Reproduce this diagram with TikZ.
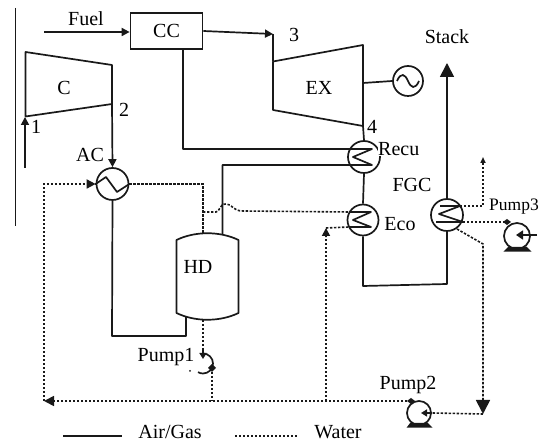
\documentclass[tikz,border=0pt]{standalone}
\usepackage{fontspec}
\setmainfont{Liberation Serif}
\usetikzlibrary{arrows.meta}
\tikzset{
  solidline/.style={line width=1.7pt,draw=black!90},
  waterline/.style={line width=1.6pt,draw=black!90,dash pattern=on 2.4pt off 1.6pt},
  hx/.style={circle,draw=black!90,line width=1.7pt,inner sep=0pt,minimum size=#1},
  lab/.style={font=\fontsize{20}{21}\selectfont,inner sep=0pt},
  tipS/.style={-{Triangle[length=8pt,width=8pt]}},
  tipB/.style={-{Triangle[length=14pt,width=14pt]}},
  tipT/.style={-{Triangle[length=6pt,width=5pt]}},
  pumpbase/.style={line width=1.4pt,draw=black!90,fill=black!90}
}
\begin{document}
\begin{tikzpicture}[x=1pt,y=-1pt]
\useasboundingbox (0,0) rectangle (542,443);
% stray margin rule
\coordinate (ruleA) at (15,8); \coordinate (ruleB) at (15,226);
\draw[line width=1pt,black!90] (ruleA) -- (ruleB);

% equipment nodes
\node[draw=black!90,line width=1.7pt,minimum width=72pt,minimum height=36pt,inner sep=0pt,lab] (CC) at (166.5,31) {CC};
\node[hx=32pt] (AC) at (112.5,184) {};
\node[hx=32pt] (Recu) at (364,157) {};
\node[hx=31pt] (Eco) at (363,220) {};
\node[hx=32pt] (FGC) at (447,215) {};
\node[hx=30pt] (Gen) at (408,81) {};
\node[hx=24pt] (PumpB) at (419,413) {};
\node[hx=26pt] (PumpC) at (517,236) {};

% compressor
\coordinate (Ca) at (25.5,52); \coordinate (Cb) at (112,65);
\coordinate (Cc) at (112,104); \coordinate (Cd) at (25.5,116.5);
\draw[solidline,line join=round] (Ca) -- (Cb) -- (Cc) -- (Cd) -- cycle;
\node[lab] (Clab) at (64,88) {C};
% expander
\coordinate (Ea) at (273,61.5); \coordinate (Eb) at (363,45);
\coordinate (Ec) at (363,126); \coordinate (Ed) at (273,110);
\draw[solidline,line join=round] (Ea) -- (Eb) -- (Ec) -- (Ed) -- cycle;
\node[lab] (EXlab) at (319,88) {EX};
% drum
\coordinate (Da) at (176.5,240); \coordinate (Db) at (238.5,240);
\coordinate (Dc) at (238.5,313); \coordinate (Dd) at (176.5,313);
\draw[solidline,line join=round] (Da) .. controls (195,231) and (220,231) .. (Db) -- (Dc)
  .. controls (220,322) and (195,322) .. (Dd) -- cycle;
\node[lab] (HD) at (198,267) {HD};

% air/gas connectors
\coordinate (fuelS) at (44,32);
\draw[solidline,tipS] (fuelS) -- (CC.west |- fuelS);
\coordinate (s3) at (273,34);
\draw[solidline,tipS] (CC.east) -- (s3);
\draw[solidline] (s3) -- (Ea);
\coordinate (s1) at (25,168); \coordinate (s1t) at (25,117);
\draw[solidline,tipS] (s1) -- (s1t);
\draw[solidline,tipS] (Cc) -- (AC.north);
\coordinate (ccB) at (183,49); \coordinate (rT) at (183,149);
\coordinate (rTr) at (372,149); \coordinate (rM) at (353,157);
\coordinate (rBr) at (372,165); \coordinate (rBl) at (222.5,165);
\coordinate (hdT) at (222.5,234);
\draw[solidline,line join=round] (ccB) -- (rT) -- (rTr) -- (rM) -- (rBr) -- (rBl) -- (hdT);
\draw[solidline] (Ec) -- (Recu.north);
\draw[solidline] (Recu.south) -- (Eco.north);
\coordinate (genL) at (363,83);
\draw[solidline] (genL) -- (Gen.west);
\draw[solidline] (397,81) .. controls (401,72) and (405,74) .. (408,81) .. controls (411,88) and (415,90) .. (419,81);
\coordinate (acD) at (112,336); \coordinate (hdD) at (186,336); \coordinate (hdE) at (186,317);
\draw[solidline,line join=round] (AC.south) -- (acD) -- (hdD) -- (hdE);
\coordinate (ecoB) at (363,286); \coordinate (fgcB) at (447,284);
\draw[solidline,line join=round] (Eco.south) -- (ecoB) -- (fgcB) -- (FGC.south);
\coordinate (stack) at (447,63);
\draw[solidline,tipB] (FGC.north) -- (stack);

% zigzags inside water heat exchangers
\draw[solidline,line join=round] (AC.west) -- (106,177) -- (117,192) -- (AC.east);
\coordinate (eTl) at (349,212); \coordinate (eTr) at (371,212);
\coordinate (eM) at (353,220); \coordinate (eBr) at (371,227); \coordinate (eBl) at (349,227);
\draw[solidline,line join=round] (eTl) -- (eTr) -- (eM) -- (eBr) -- (eBl);
\coordinate (fTl) at (440,206); \coordinate (fTr) at (460,206); \coordinate (fM) at (439,214);
\coordinate (fBr) at (463,222); \coordinate (fBl) at (436,222);
\draw[solidline,line join=round] (fTl) -- (fTr) -- (fM) -- (fBr) -- (fBl);

% water connectors
\coordinate (wBL) at (44,401); \coordinate (wAC) at (44,184);
\draw[waterline] (wBL) -- (wAC) -- (AC.west);
\draw[-{Triangle[length=9pt,width=9pt]},solidline] (88,184) -- (AC.west);
\coordinate (acR) at (203,184); \coordinate (hdW) at (203,233);
\draw[waterline] (AC.east) -- (acR) -- (hdW);
\coordinate (wJ) at (203,212);
\draw[waterline] (wJ) -- (216,212) .. controls (220,212) and (219,204) .. (226,204)
  .. controls (233,204) and (232,211) .. (243,211) -- (eTl);
\coordinate (hdB) at (203,320); \coordinate (p1a) at (203,359);
\draw[waterline] (hdB) -- (203,350);
\draw[solidline,-{Triangle[length=6pt,width=7pt]}] (203,350) -- (p1a);
\coordinate (p1o) at (212,368); \coordinate (wJa) at (212,401);
\draw[solidline] (203,353.5) arc[start angle=90,end angle=-120,radius=10pt];
\fill[black!90] (212,364) -- (216,368) -- (212,372) -- (208,368) -- cycle;
\fill[black!90] (190,371) circle (1pt);
\draw[waterline] (p1o) -- (wJa);
\coordinate (wP2) at (411,401);
\draw[waterline] (wP2) -- (54,401);
\draw[solidline,-{Triangle[length=10pt,width=10pt]}] (54,401) -- (wBL);
\fill[black!90] (411,398) -- (415,401) -- (411,404) -- (407,401) -- cycle;
\coordinate (wE) at (326,401); \coordinate (wEt) at (326,228);
\draw[waterline] (wE) -- (326,237);
\draw[solidline,-{Triangle[length=8pt,width=8pt]}] (326,236) -- (wEt);
\draw[waterline] (wEt) -- (eBl);
\coordinate (wF) at (483,206); \coordinate (wFt) at (483,157);
\draw[waterline] (fTr) -- (wF) -- (483,164);
\draw[solidline,tipT] (483,164) -- (wFt);
\coordinate (wD) at (483,244); \coordinate (wDb) at (483,414);
\draw[waterline] (457,229) -- (wD) -- (483,400);
\draw[solidline,tipB] (483,400) -- (wDb);
\draw[waterline] (wDb) -- (PumpB.east);
\draw[solidline,-{Triangle[length=6pt,width=7pt]}] (PumpB.east) -- (421,413);
\coordinate (wPc) at (507,222);
\draw[waterline] (fBr) -- (wPc);
\fill[black!90] (507,219) -- (511,222) -- (507,225) -- (503,222) -- cycle;
\coordinate (pcIn) at (537,235);
\draw[solidline,-{Triangle[length=7pt,width=9pt]}] (pcIn) -- (516,235);

% pump bases
\draw[pumpbase] (411,423) -- (408,427) -- (431,427) -- (427,423);
\draw[pumpbase] (509,247) -- (505,251) -- (530,251) -- (526,247);

% labels
\node[lab] (Fuel) at (86,19) {Fuel};
\node[lab] (n1) at (36,127) {1};
\node[lab] (n2) at (124,110) {2};
\node[lab] (ACl) at (90,155) {AC};
\node[lab] (n3) at (294,35) {3};
\node[lab] (n4) at (372,127) {4};
\node[lab] (StackL) at (447,37) {Stack};
\node[lab,fill=white,anchor=west] (RecuL) at (378,149) {Recu};
\node[lab] (EcoL) at (400,224) {Eco};
\node[lab] (FGCL) at (412,185) {FGC};
\node[lab,font=\fontsize{17.5}{18}\selectfont] (P3) at (514,207) {Pump3};
\node[lab] (P2) at (408,385) {Pump2};
\node[lab] (P1) at (166,357) {Pump1};
\coordinate (l1a) at (63,436); \coordinate (l1b) at (122,436);
\draw[solidline] (l1a) -- (l1b);
\node[lab] (AG) at (170,432) {Air/Gas};
\coordinate (l2a) at (235,436); \coordinate (l2b) at (298,436);
\draw[waterline] (l2a) -- (l2b);
\node[lab] (W) at (338,432) {Water};
\end{tikzpicture}
\end{document}
